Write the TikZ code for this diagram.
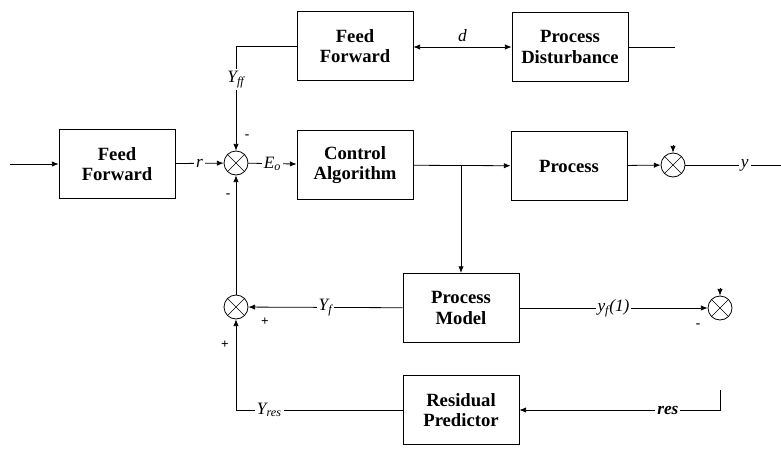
\documentclass[tikz,border=0pt]{standalone}
\usepackage{fontspec}
\setmainfont{Liberation Serif}
\usetikzlibrary{arrows.meta,positioning,calc}
\tikzset{
  >={Latex[length=5pt,width=4pt]},
  line/.style      = {->, line width=0.6pt},
  wire/.style      = {line width=0.6pt},
  block/.style     = {rectangle, draw, line width=0.6pt, align=center, minimum width=87pt, minimum height=52pt, font=\bfseries\fontsize{14}{15.5}\selectfont},
  sumnode/.style   = {circle, draw, line width=0.6pt, minimum size=18pt, inner sep=0pt,
                      path picture={\draw[line width=0.5pt] (path picture bounding box.north west) -- (path picture bounding box.south east)
                                    (path picture bounding box.north east) -- (path picture bounding box.south west);}},
  lbl/.style       = {fill=white, inner sep=1.5pt, font=\itshape\fontsize{13}{14}\selectfont},
  sign/.style      = {inner sep=0pt, font=\bfseries}
}
\newcommand{\sub}[1]{\textsubscript{\itshape #1}}

\begin{document}
\begin{tikzpicture}[x=0.75pt, y=-0.75pt]
\useasboundingbox (0,0) rectangle (781,450);

% Top row
\node[block] (fftop) at (355,46) {Feed\\Forward};
\node[block] (dist) at (570,47) {Process\\Disturbance};

% Middle row
\node[block] (ff) at (117,164) {Feed\\Forward};
\node[sumnode] (suma) at (236,163) {};
\node[block] (ctrl) at (355,165) {Control\\Algorithm};
\node[block] (proc) at (569,166) {Process};
\node[sumnode] (sumb) at (673,165) {};

% Lower rows
\node[sumnode] (sumc) at (236,307) {};
\node[block] (model) at (461,308) {Process\\Model};
\node[sumnode] (sumd) at (720,308) {};
\node[block] (resid) at (461,410) {Residual\\Predictor};

% Free ends
\coordinate (in) at (10,164);
\coordinate (dout) at (675,47);
\coordinate (tap) at (461,165);
\coordinate (bin) at (673,145);
\coordinate (din) at (720,288);
\coordinate (yout) at (781,165);
\coordinate (rstart) at (720,390);

% Signs
\node[sign] at (247,137) {-};
\node[sign] at (228,196) {-};
\node[sign] at (265,322) {+};
\node[sign] at (225,345) {+};
\node[sign] at (698,326) {-};

% Connections
\draw[line] (in) -- (ff);
\draw[line] (ff) -- node[lbl] {r} (suma);
\draw[line] (fftop.west) -| node[lbl, pos=0.66] {Y\sub{ff}} (suma.north);
\draw[line] (suma) -- node[lbl] {E\sub{o}} (ctrl);
\draw[<->, wire] (fftop.east |- dist) -- node[lbl, fill=none, above=3pt, inner sep=1pt] {d} (dist);
\draw[wire] (dist) -- (dout);
\draw[line] (ctrl) -- (proc);
\draw[line] (tap) -- (model);
\draw[line] (proc) -- (sumb);
\draw[line] (bin) -- (sumb.north);
\draw[wire] (sumb) -- node[lbl, pos=0.62] {y} (yout);
\draw[line] (model) -- node[lbl] {Y\sub{f}} (sumc);
\draw[line] (model) -- node[lbl] {y\sub{f}(1)} (sumd);
\draw[line] (din) -- (sumd.north);
\draw[line] (sumc) -- (suma);
\draw[line] (resid) -| node[lbl, pos=0.4] {Y\sub{res}} (sumc.south);
\draw[line] (rstart) |- node[lbl, pos=0.63, font=\bfseries\itshape\fontsize{13}{14}\selectfont] {res} (resid);

\end{tikzpicture}
\end{document}
